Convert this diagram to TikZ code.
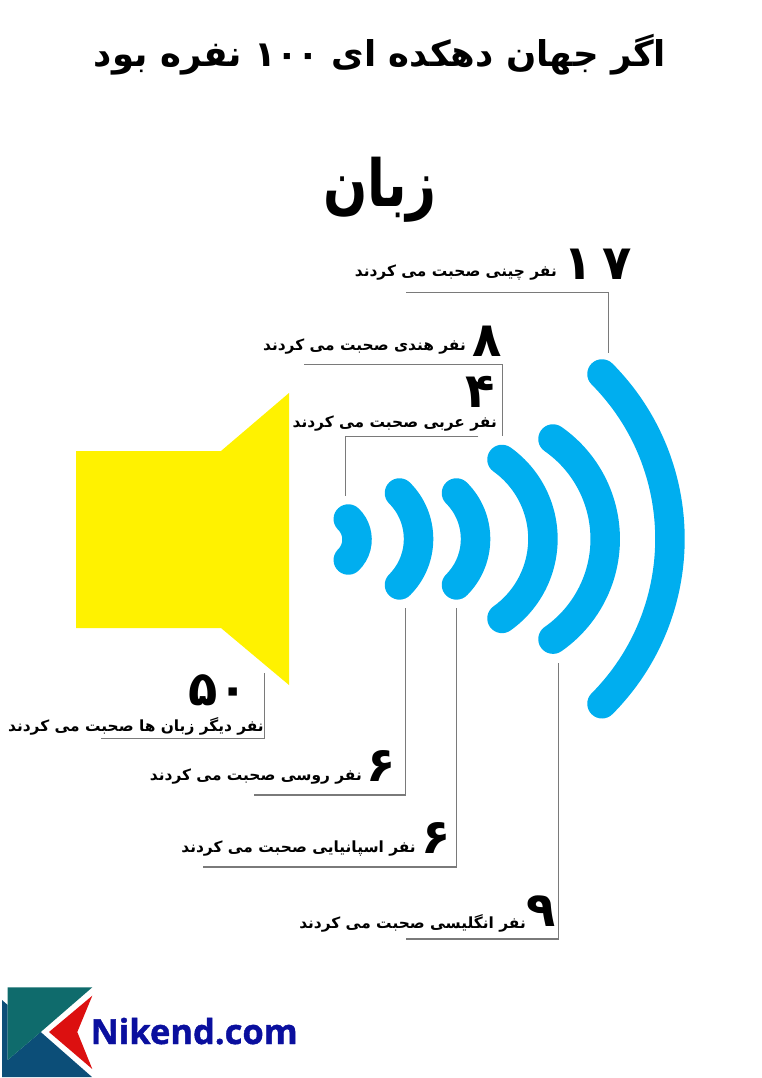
\documentclass[tikz,border=0pt]{standalone}
\usepackage{fontspec}
\newfontfamily\farsi[Script=Arabic]{DejaVu Sans}
\newfontfamily\logofont[FakeBold=1.2]{Open Sans}
\TeXXeTstate=1
\newcommand{\fa}[1]{\beginR#1\endR}
\definecolor{wavecol}{HTML}{00AEEF}
\definecolor{hornyellow}{HTML}{FFF200}
\definecolor{leadgray}{HTML}{7A7A7A}
\definecolor{logoteal}{HTML}{0F6B6C}
\definecolor{logoblue}{HTML}{0C4E78}
\definecolor{logored}{HTML}{DC1010}
\definecolor{logotext}{HTML}{0A0F9E}
\tikzset{
  wave/.style={line width=29.5pt, line cap=round, color=wavecol},
  leader/.style={draw=leadgray, line width=1.3pt},
  saying/.style={font=\farsi\bfseries\fontsize{15.4}{16}\selectfont, anchor=east, inner sep=0pt},
  count/.style={font=\farsi\bfseries\fontsize{48}{48}\selectfont, inner sep=0pt},
}
\begin{document}
\begin{tikzpicture}[x=1pt, y=-1pt]
  \useasboundingbox (0,0) rectangle (761,1078);
  % titles
  \node[font=\farsi\bfseries\fontsize{35.5}{36}\selectfont, inner sep=0pt] (title) at (380,55) {\fa{اگر جهان دهکده ای ۱۰۰ نفره بود}};
  \node[font=\farsi\bfseries\fontsize{52}{52}\selectfont, inner sep=0pt, yscale=1.25, transform shape] (topic) at (380,190) {\fa{زبان}};
  % speaker
  \fill[hornyellow] (76,451) -- (221,451) -- (289,393) -- (289,685) -- (221,628) -- (76,628) -- cycle;
  % waves: tip x / tip y / radius / half angle
  \foreach \tx/\ty/\r/\a in {602/374/234/44.8, 553/439/122/55.1, 502/459.5/97.6/54.5,
      456.5/493/65/45, 399.5/493/65/45, 348.3/519/28.5/46} {
    \draw[wave] (\tx,\ty) arc[start angle=-\a, end angle=\a, radius=\r];
  }
  % upper labels
  \node[saying] (zhText) at (557,273) {\fa{نفر چینی صحبت می کردند}};
  \node[count] (zhNum) at (598,264) {۱\hspace{10pt}۷};
  \node[saying] (hiText) at (466,347) {\fa{نفر هندی صحبت می کردند}};
  \node[count] (hiNum) at (487,341) {۸};
  \node[saying] (arText) at (497,424) {\fa{نفر عربی صحبت می کردند}};
  \node[count] (arNum) at (480,392) {۴};
  % lower labels
  \node[saying] (otText) at (264,726) {\fa{نفر دیگر زبان ها صحبت می کردند}};
  \node[count] (otNum) at (218,690) {۵\hspace{1pt}۰};
  \node[saying] (ruText) at (362,777) {\fa{نفر روسی صحبت می کردند}};
  \node[count] (ruNum) at (381,766) {۶};
  \node[saying] (esText) at (416,849) {\fa{نفر اسپانیایی صحبت می کردند}};
  \node[count] (esNum) at (436,838) {۶};
  \node[saying] (enText) at (526,923) {\fa{نفر انگلیسی صحبت می کردند}};
  \node[count] (enNum) at (541,911) {۹};
  % leader lines
  \coordinate (zhA) at (406,292.7);
  \coordinate (zhB) at (608.7,352.7);
  \coordinate (hiA) at (304,364.7);
  \coordinate (hiB) at (502.3,436);
  \coordinate (arA) at (478.3,436.7);
  \coordinate (arB) at (345.7,495.7);
  \coordinate (otA) at (264.7,673);
  \coordinate (otB) at (101,738.7);
  \coordinate (ruA) at (405.8,608);
  \coordinate (ruB) at (253.5,795);
  \coordinate (esA) at (456.5,608);
  \coordinate (esB) at (203,867);
  \coordinate (enA) at (558.5,663);
  \coordinate (enB) at (405.8,939);
  \draw[leader] (zhA) -| (zhB);
  \draw[leader] (hiA) -| (hiB);
  \draw[leader] (arA) -| (arB);
  \draw[leader] (otA) |- (otB);
  \draw[leader] (ruA) |- (ruB);
  \draw[leader] (esA) |- (esB);
  \draw[leader] (enA) |- (enB);
  % logo
  \fill[logoblue] (2,1000) -- (7.7,1005) -- (7.7,1060) -- (40.7,1032) -- (92,1077) -- (2,1077) -- cycle;
  \fill[logoteal] (7.7,987.3) -- (92.3,987.3) -- (40.7,1032) -- (7.7,1060) -- cycle;
  \fill[logored] (92.3,995.7) -- (49,1032) -- (92.3,1069) -- (77.3,1032) -- cycle;
  \node[font=\logofont\bfseries\fontsize{34.5}{36}\selectfont, text=logotext, anchor=base west, inner sep=0pt] (brand) at (90.5,1044) {Nikend.com};
\end{tikzpicture}
\end{document}
